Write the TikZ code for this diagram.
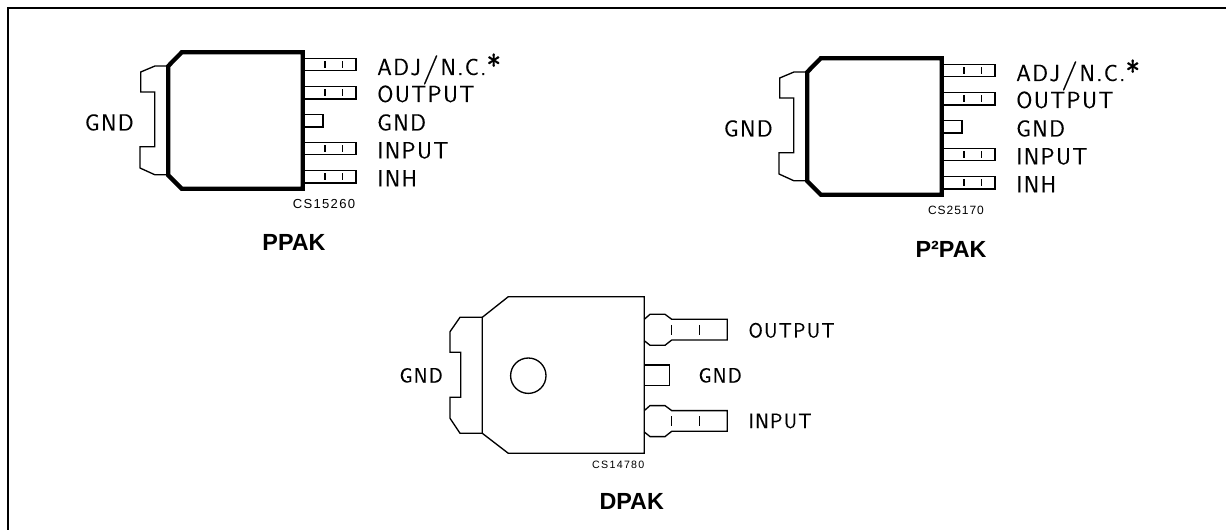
\documentclass[tikz,border=0pt]{standalone}
\usepackage{fontspec}
\setmainfont{Liberation Sans}
\newfontfamily\pinf[LetterSpace=6,FakeBold=0.15]{Latin Modern Sans}
\newfontfamily\codeA[LetterSpace=10]{Liberation Sans}
\newfontfamily\codeB[LetterSpace=8]{Liberation Sans}
\newfontfamily\codeC[LetterSpace=12]{Liberation Sans}
\newcommand{\pinA}{\fontsize{17.5pt}{20pt}\pinf}
\newcommand{\pinB}{\fontsize{15.5pt}{18pt}\pinf}
\newcommand{\bigslash}{\kern1pt\raisebox{-1.6pt}{\scalebox{1.55}[1.25]{/}}\kern1pt}
\newcommand{\bigstar}{\raisebox{-1.5pt}{\scalebox{1.35}{*}}}
\newcommand{\lead}[1]{%
  \draw[thinl] (303,#1-6.2) -- (356,#1-6.2) -- (356,#1+6.2) -- (303,#1+6.2);
  \draw[thinl] (325,#1-3.3) -- (325,#1+3.3) (342.3,#1-3.3) -- (342.3,#1+3.3);}
\newcommand{\chipbody}{%
  \draw[thinl] (168.3,66) -- (155,66) -- (140.7,72) -- (140.7,92) -- (154.7,92) -- (154.7,146.7) -- (140,146.7) -- (140,168) -- (154.7,174.7) -- (168.3,174.7);
  \lead{64.5}\lead{92.8}\lead{148.5}\lead{176.7}
  \draw[thinl] (303,114.3) -- (323,114.3) -- (323,127) -- (303,127);
  \draw[thickl] (168.3,66) -- (181.7,52.3) -- (302.7,52.3) -- (302.7,188.7) -- (181.7,188.7) -- (168.3,175.3) -- cycle;
  \node[pina] at (377,75) {ADJ\bigslash N.C.\bigstar};
  \node[pina] at (377,102) {OUTPUT};
  \node[pina] at (377,130.5) {GND};
  \node[pina] at (377,158.3) {INPUT};
  \node[pina] at (377,186.3) {INH};
  \node[pina] at (84.7,130.5) {GND};}
\newcommand{\dlead}[1]{%
  \draw[thinl] (644.3,#1-10.7) -- (650,#1-15.7) -- (665,#1-15.7) -- (671.7,#1-10.7) -- (727.3,#1-10.7) -- (727.3,#1+10) -- (671.7,#1+10) -- (665,#1+15.3) -- (650,#1+15.3) -- (644.3,#1+10.7);
  \draw[thinl] (671.7,#1-5) -- (671.7,#1+5) (699.3,#1-5) -- (699.3,#1+5);}
\begin{document}
\begin{tikzpicture}[x=0.75pt,y=-0.75pt,
  thinl/.style={line width=1pt,black,line join=miter},
  thickl/.style={line width=3.2pt,black,line join=miter},
  framel/.style={line width=1.5pt,black},
  pina/.style={anchor=base west,inner sep=0pt,font=\pinA},
  pinb/.style={anchor=base west,inner sep=0pt,font=\pinB},
  code/.style={anchor=base,inner sep=0pt},
  title/.style={anchor=base,inner sep=0pt,font=\bfseries\fontsize{17.5pt}{19pt}\selectfont}]
\useasboundingbox (0,0) rectangle (1226,530);
\fill[white] (0,0) rectangle (1226,530);
\draw[framel] (8,530) -- (8,8) -- (1226,8);
% PPAK
\chipbody
\node[code,font=\fontsize{9.8pt}{11pt}\codeA] (c1) at (324,209) {CS15260};
\node[title] (t1) at (294,251) {PPAK};
% P2PAK
\begin{scope}[shift={(639,6)}]
\chipbody
\end{scope}
\node[code,font=\fontsize{9pt}{10pt}\codeB] (c2) at (956,214.5) {CS25170};
\node[title] (t2) at (951,258) {P²PAK};
% DPAK
\draw[thinl] (482.3,317.3) -- (508.3,296.7) -- (644.3,296.7) -- (644.3,453.3) -- (508.3,453.3) -- (482.3,433.3) -- cycle;
\draw[thinl] (482.3,317.3) -- (460,317.3) -- (450,331.7) -- (450,352.3) -- (460.7,352.3) -- (460.7,397.3) -- (450,397.3) -- (450,418.3) -- (460,433.3) -- (482.3,433.3);
\draw[thinl] (528.3,375.7) circle[radius=17.7];
\dlead{330}\dlead{421.3}
\draw[thinl] (644.3,365) -- (669.3,365) -- (669.3,385.7) -- (644.3,385.7);
\node[pinb] (d1) at (748.3,337.5) {OUTPUT};
\node[pinb] (d2) at (698.3,382.5) {GND};
\node[pinb] (d3) at (748.3,428) {INPUT};
\node[pinb] (d4) at (399.3,382.5) {GND};
\node[code,font=\fontsize{8pt}{10pt}\codeC] (c3) at (618.3,468) {CS14780};
\node[title] (t3) at (631.7,509.5) {DPAK};
\end{tikzpicture}
\end{document}
